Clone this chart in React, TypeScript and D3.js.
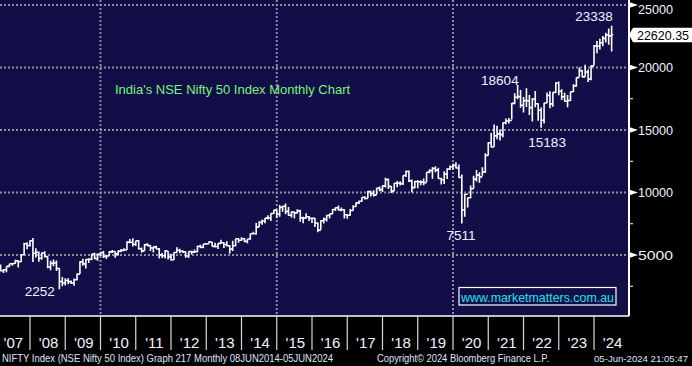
import React from 'react';
import * as d3 from 'd3';

const startYear = 2007;
const firstOpen = 3966;
// Monthly highs, lows, closes from Jan 2007 to Jun 2024
const highs = [
  4167,4245,3875,4110,4308,4335,4629,4573,5055,5977,6011,6185,
  6357,5545,5287,5230,5298,4908,4540,4649,4558,3956,3240,3147,
  3147,2966,3123,3517,4509,4693,4669,4743,5087,5182,5139,5221,
  5311,4992,5329,5400,5278,5366,5478,5549,6073,6284,6339,6147,
  6181,5600,5872,5944,5775,5657,5740,5552,5170,5399,5326,5099,
  5217,5630,5499,5379,5279,5286,5349,5448,5735,5815,5885,5965,
  6111,6052,5971,5963,6229,6011,6093,5808,6142,6309,6342,6415,
  6358,6282,6730,6869,7563,7700,7840,7968,8180,8331,8617,8627,
  8996,8941,9119,8844,8490,8467,8655,8622,8055,8336,8117,7979,
  7973,7600,7778,7992,8213,8308,8674,8819,8968,8806,8669,8274,
  8672,8982,9218,9367,9649,9709,10115,10138,10179,10384,10490,10552,
  11172,11117,10525,10760,10929,10893,11366,11760,11752,11036,10922,10985,
  10987,11118,11630,11856,12041,12103,11982,11181,11695,11945,12158,12294,
  12430,12246,11433,9889,9598,10554,11341,11794,11618,12025,13146,14024,
  14754,15432,15336,15044,15606,15916,15962,17154,17948,18604,18210,17640,
  18350,17794,17560,18115,17132,16794,17172,17992,18096,18022,18816,18888,
  18251,17972,17800,18089,18662,19202,19992,19796,20222,19850,20158,21801,
  22124,22298,22527,22783,23111,23338
];
const lows = [
  3833,3675,3554,3617,4054,4136,4297,4002,4440,5015,5456,5676,
  4448,4803,4468,4628,4801,3940,3790,4107,3716,2252,2502,2570,
  2661,2677,2539,2965,3478,4143,3918,4353,4576,4687,4538,4943,
  4766,4675,4935,5160,4787,4962,5225,5348,5403,5937,5690,5721,
  5416,5177,5348,5693,5328,5195,5453,4720,4758,4728,4639,4531,
  4588,5159,5135,5154,4789,4770,5032,5164,5215,5548,5549,5823,
  5935,5671,5605,5477,5910,5566,5675,5118,5318,5700,5972,6130,
  6027,5933,6212,6650,6638,7239,7422,7540,7841,7723,8290,7961,
  8065,8470,8269,8145,7997,7940,8315,7667,7540,7930,7714,7551,
  7241,6826,7035,7516,7678,7927,8287,8518,8555,8506,7916,7894,
  8133,8537,8860,9075,9269,9448,9543,9685,9687,9831,10094,10033,
  10405,10276,9952,10112,10418,10551,10605,11234,10850,10005,10341,10334,
  10583,10586,10817,11550,11108,11625,11107,10637,10671,11090,11802,11832,
  11929,11175,7511,8055,8806,9544,10299,10882,10790,11347,11557,12963,
  13597,13662,14264,14151,14417,15451,15514,15835,17055,17452,16782,16410,
  16836,16203,15671,16825,15736,15183,15511,17154,16748,16855,17959,17774,
  17406,17255,16828,17312,18042,18464,19234,19224,19255,18837,18973,20183,
  21137,21448,21710,22001,21822,21281
];
const closes = [
  4082,3745,3822,4087,4296,4318,4529,4464,5021,5900,5763,6139,
  5137,5224,4735,5166,4870,4041,4333,4360,3921,2885,2755,2959,
  2874,2763,3021,3474,4449,4291,4636,4662,5084,4712,5033,5201,
  4882,4922,5249,5278,5087,5313,5368,5402,6030,6018,5863,6135,
  5506,5333,5834,5749,5560,5647,5482,5001,4943,5326,4832,4624,
  5199,5385,5296,5248,4924,5279,5229,5259,5703,5620,5880,5905,
  6035,5693,5683,5930,5986,5842,5742,5471,5735,6299,6176,6304,
  6090,6277,6704,6696,7230,7611,7721,7954,7965,8322,8588,8283,
  8809,8902,8491,8182,8434,8369,8533,7971,7949,8066,7935,7946,
  7564,6987,7738,7850,8160,8288,8639,8786,8611,8626,8224,8186,
  8561,8880,9174,9304,9621,9521,10077,9918,9789,10335,10227,10531,
  11028,10493,10114,10739,10736,10714,11357,11681,10930,10387,10877,10863,
  10831,10793,11624,11748,11923,11789,11118,11023,11474,11877,12056,12168,
  11962,11202,8598,9860,9580,10302,11073,11388,11248,11642,12969,13982,
  13635,14529,14691,14631,15583,15722,15763,17132,17618,17672,16983,17354,
  17340,16794,17465,17103,16585,15780,17158,17759,17094,18012,18758,18105,
  17662,17304,17360,18065,18534,19189,19754,19254,19638,19080,20133,21731,
  21726,21983,22327,22605,22531,22620
];

const yTicks = [5000, 10000, 15000, 20000, 25000];
const yMinorTicks = [2500, 7500, 12500, 17500, 22500];
const xGridYears = [2010, 2015, 2020];
const xTickYears = [2008,2009,2010,2011,2012,2013,2014,2015,2016,2017,2018,2019,2020,2021,2022,2023,2024];
const yearLabelYears = [2007,2008,2009,2010,2011,2012,2013,2014,2015,2016,2017,2018,2019,2020,2021,2022,2023,2024];
const lastPriceValue = 22620.35;
const annotationTexts = ['23338', '18604', '15183', '7511', '2252'];
const annotationTimes = [2024.0, 2021.33, 2022.67, 2020.23, 2008.28];
const annotationValues = [24120, 19000, 14040, 6600, 2120];
const titleText = "India's NSE Nifty 50 Index Monthly Chart";
const watermarkText = 'www.marketmatters.com.au';
const footerLeft = 'NIFTY Index (NSE Nifty 50 Index) Graph 217  Monthly 08JUN2014-05JUN2024';
const footerMid = 'Copyright\u00A9 2024 Bloomberg Finance L.P.';
const footerRight = '05-Jun-2024 21:05:47';

const W = 692, H = 366;
const plotRight = 629, plotBottom = 316;
const FONT = '"Liberation Sans", Arial, sans-serif';

export default function App() {
  const x = d3.scaleLinear().domain([2008, 2024]).range([30, 594]);
  const y = d3.scaleLinear().domain([5000, 25000]).range([255, 5]);

  let barPath = '';
  closes.forEach((c, i) => {
    const t = startYear + (i + 1) / 12;
    const cx = x(t);
    const o = i === 0 ? firstOpen : closes[i - 1];
    barPath += `M${cx},${y(highs[i])}V${y(lows[i])}M${cx - 1.6},${y(o)}H${cx}M${cx},${y(c)}H${cx + 1.6}`;
  });

  const py = y(lastPriceValue);
  const textCol = '#f2f2ff';

  return (
    <svg width={W} height={H} style={{ display: 'block', position: 'absolute', left: 0, top: 0 }} fontFamily={FONT}>
      <style>{'body{margin:0;background:#000}'}</style>
      <defs>
        <clipPath id="plotClip">
          <rect x={0} y={0} width={plotRight} height={plotBottom} />
        </clipPath>
      </defs>
      <rect x={0} y={0} width={W} height={H} fill="#000" />
      <rect x={0} y={0} width={plotRight} height={plotBottom} fill="#110e48" />

      {/* grid */}
      {yTicks.map(v => (
        <line key={'gy' + v} x1={0} x2={plotRight} y1={y(v)} y2={y(v)} stroke="#8f8f9c" strokeWidth={2} strokeDasharray="2,2" />
      ))}
      {xGridYears.map(yr => (
        <line key={'gx' + yr} x1={x(yr)} x2={x(yr)} y1={0} y2={plotBottom} stroke="#8f8f9c" strokeWidth={2} strokeDasharray="2,2" />
      ))}

      {/* title */}
      <text x={115} y={94} fill="#7cf27c" fontSize={13}>{titleText}</text>

      {/* bars */}
      <g clipPath="url(#plotClip)">
        <path d={barPath} stroke="#ffffff" strokeWidth={1.6} fill="none" />
      </g>

      {/* annotations */}
      {annotationTexts.map((s, i) => (
        <text key={'an' + i} x={x(annotationTimes[i])} y={y(annotationValues[i])} dy="0.36em" textAnchor="middle" fill={textCol} fontSize={13.5}>{s}</text>
      ))}

      {/* watermark */}
      <rect x={459} y={287.5} width={157} height={17.5} fill="none" stroke="#ffffff" strokeWidth={1.2} />
      <text x={461} y={301.5} fill="#22e2ee" fontSize={12.5} textLength={153} lengthAdjust="spacingAndGlyphs">{watermarkText}</text>

      {/* right axis */}
      <line x1={plotRight} x2={plotRight} y1={0} y2={plotBottom} stroke="#ffffff" strokeWidth={2} />
      {yMinorTicks.map(v => (
        <line key={'mt' + v} x1={plotRight} x2={plotRight + 4} y1={y(v)} y2={y(v)} stroke="#ffffff" strokeWidth={1} />
      ))}
      {yTicks.map(v => (
        <g key={'yt' + v}>
          <polygon points={`${plotRight},${y(v) - 3} ${plotRight + 9},${y(v)} ${plotRight},${y(v) + 3}`} fill="#ffffff" />
          <text x={638} y={Math.max(y(v), 9)} dy="0.36em" fill={textCol} fontSize={13.5} textLength={35} lengthAdjust="spacingAndGlyphs">{d3.format('d')(v)}</text>
        </g>
      ))}
      {/* last price label */}
      <polygon points={`${plotRight},${py} ${633},${py - 7} ${692},${py - 7} ${692},${py + 7.5} ${633},${py + 7.5}`} fill="#ffffff" />
      <text x={637} y={py + 0.5} dy="0.36em" fill="#000000" fontSize={13.5} textLength={52} lengthAdjust="spacingAndGlyphs">{d3.format('.2f')(lastPriceValue)}</text>

      {/* bottom axis */}
      <line x1={0} x2={plotRight} y1={plotBottom} y2={plotBottom} stroke="#ffffff" strokeWidth={1.5} />
      {xTickYears.map(yr => (
        <line key={'xt' + yr} x1={x(yr)} x2={x(yr)} y1={plotBottom} y2={350} stroke="#d8d8d8" strokeWidth={1.2} />
      ))}
      {yearLabelYears.map(yr => (
        <text key={'yl' + yr} x={x(yr + 0.5) + 1} y={347.5} textAnchor="middle" fill={textCol} fontSize={15}>{"'" + String(yr).slice(2)}</text>
      ))}

      {/* footer */}
      <text x={2} y={361.5} fill="#dfe6f7" fontSize={10} textLength={331} lengthAdjust="spacingAndGlyphs">{footerLeft}</text>
      <text x={377} y={361.5} fill="#dfe6f7" fontSize={10} textLength={172} lengthAdjust="spacingAndGlyphs">{footerMid}</text>
      <text x={594} y={361.5} fill="#dfe6f7" fontSize={9} textLength={94} lengthAdjust="spacingAndGlyphs">{footerRight}</text>
    </svg>
  );
}
